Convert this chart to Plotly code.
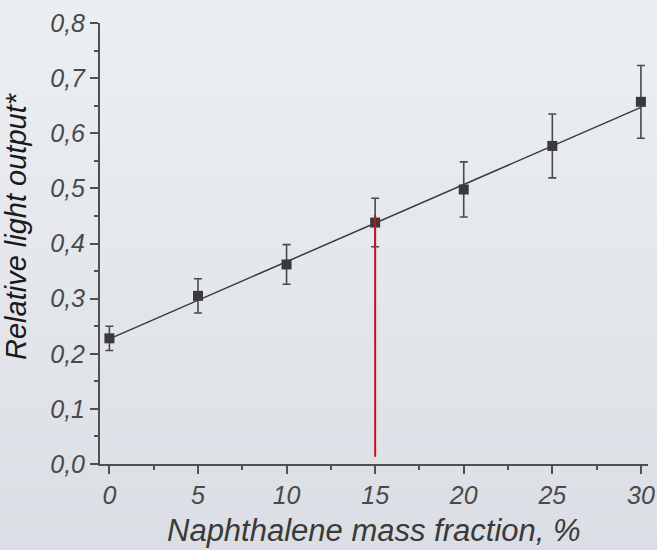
import plotly.graph_objects as go

# Data
mass_fraction = [0, 5, 10, 15, 20, 25, 30]
light_output = [0.228, 0.305, 0.362, 0.438, 0.498, 0.577, 0.657]
error = [0.022, 0.031, 0.036, 0.044, 0.050, 0.058, 0.066]
fit_x = [0, 30]
fit_y = [0.227, 0.647]
marker_x = [15, 15]
marker_y = [0.013, 0.452]
x_ticks = [0, 5, 10, 15, 20, 25, 30]
y_ticks = [0.0, 0.1, 0.2, 0.3, 0.4, 0.5, 0.6, 0.7, 0.8]

W, H = 657, 550
FONT = "Liberation Sans"

fig = go.Figure()

fig.add_trace(go.Scatter(
    x=fit_x, y=fit_y, mode="lines",
    line=dict(color="#3a3a3a", width=1.5), hoverinfo="skip", showlegend=False))

fig.add_trace(go.Scatter(
    x=mass_fraction, y=light_output, mode="markers",
    marker=dict(symbol="square", size=10, color="#3a3a3a"),
    error_y=dict(type="data", array=error, visible=True, color="#4a4a4a",
                 thickness=1.6, width=4),
    showlegend=False))

fig.add_trace(go.Scatter(
    x=marker_x, y=marker_y, mode="lines",
    line=dict(color="#c8101e", width=2), hoverinfo="skip", showlegend=False))

# background gradient strips
shapes = []
n = 60
top = (236, 239, 242)
bot = (219, 222, 228)
for i in range(n):
    t = i / (n - 1)
    c = tuple(round(top[k] + (bot[k] - top[k]) * t) for k in range(3))
    shapes.append(dict(type="rect", xref="paper", yref="paper", layer="below",
                       x0=-0.2, x1=1.2,
                       y1=1 + 23 / 441 - i * (550 / 441) / n,
                       y0=1 + 23 / 441 - (i + 1) * (550 / 441) / n - 0.002,
                       line=dict(width=0), fillcolor="rgb(%d,%d,%d)" % c))

axis_common = dict(
    showline=True, linecolor="#505050", linewidth=2,
    ticks="outside", ticklen=8, tickwidth=2, tickcolor="#505050",
    showgrid=False, zeroline=False, automargin=False,
    tickfont=dict(family=FONT, size=25, color="#4a4a4a", style="italic"),
)

fig.update_layout(
    width=W, height=H,
    margin=dict(l=100, r=9, t=23, b=86),
    paper_bgcolor="#e4e7eb", plot_bgcolor="rgba(0,0,0,0)",
    separators=", ",
    shapes=shapes,
    xaxis=dict(range=[-0.53, 30.4], tickvals=x_ticks,
               minor=dict(dtick=2.5, ticklen=4, tickwidth=2, tickcolor="#505050", ticks="outside"),
               **axis_common),
    yaxis=dict(range=[0, 0.8], tickvals=y_ticks, tickformat=".1f",
               minor=dict(dtick=0.05, ticklen=4, tickwidth=2, tickcolor="#505050", ticks="outside"),
               **axis_common),
    annotations=[
        dict(text="Naphthalene mass fraction, %", xref="paper", yref="paper",
             x=0.5, y=-86 / 441, yanchor="bottom", showarrow=False,
             font=dict(family=FONT, size=31, color="#3a3a3a", style="italic")),
        dict(text="Relative light output*", xref="paper", yref="paper",
             x=-102 / 548, xanchor="left", y=(464 - 226) / 441, yanchor="middle",
             textangle=-90, showarrow=False,
             font=dict(family=FONT, size=29, color="#1a1a1a", style="italic")),
    ],
)

fig.write_html("out.html")
